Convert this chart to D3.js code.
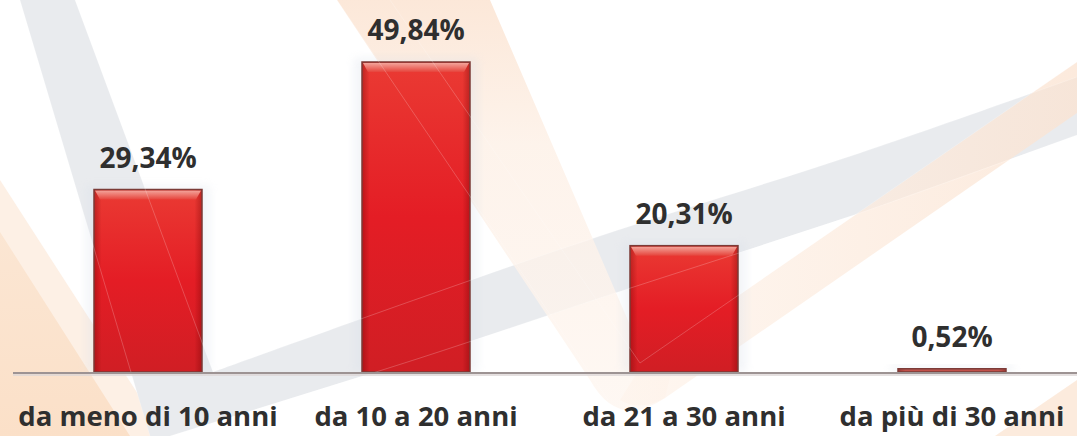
<html>
<head><meta charset="utf-8"/>
<script src="https://cdn.jsdelivr.net/npm/d3@7"></script>
<style>
  body {margin: 0; background: #fff;}
  text {font-family: "Open Sans", sans-serif; font-weight: 700; fill: #2f2f2f;}
</style>
</head>
<body>
<svg width="1077" height="436"></svg>
<script>

// data
var categories = ["da meno di 10 anni", "da 10 a 20 anni", "da 21 a 30 anni", "da più di 30 anni"];
var values = [29.34, 49.84, 20.31, 0.52];

var it = d3.formatLocale({decimal: ",", thousands: ".", grouping: [3], currency: ["", "€"]});
var fmt = function(v) { return it.format(".2f")(v) + "%"; };

var svg = d3.select("svg");
var W = 1077, H = 436, base = 372;

var x = d3.scaleBand().domain(categories).range([14, 1086])
          .paddingInner(0.597).paddingOuter(0.2985);
var y = d3.scaleLinear().domain([0, 50]).range([base, 61]);

var defs = svg.append("defs");

function grad(id, x2, y2, stops) {
  var lg = defs.append("linearGradient").attr("id", id)
     .attr("x1", 0).attr("y1", 0).attr("x2", x2).attr("y2", y2);
  stops.forEach(function(s) {
    lg.append("stop").attr("offset", s[0]).attr("stop-color", s[1]).attr("stop-opacity", s[2] == null ? 1 : s[2]);
  });
}
grad("barFill", 0, 1, [[0, "#ea3a33"], [0.5, "#e41d25"], [1, "#d01e24"]]);
grad("barEdge", 1, 0, [[0, "#6a0000", 0.35], [0.07, "#6a0000", 0], [0.93, "#6a0000", 0], [1, "#6a0000", 0.35]]);
grad("bevel", 0, 1, [[0, "#f3a49a"], [1, "#e6443c"]]);
grad("peachR", 1, 0, [[0, "#fef4ec"], [1, "#fbe3d1"]]);
grad("peachTop", 0, 1, [[0, "#fbe2cf"], [0.35, "#fdf0e6"], [1, "#fef6f0"]]);
grad("peachL", 0, 1, [[0, "#fbe6d3"], [1, "#fbe0c8"]]);
defs.append("filter").attr("id", "soft").append("feGaussianBlur").attr("stdDeviation", 4);

// background swooshes
var bg = svg.append("g");
var line = d3.line().curve(d3.curveCatmullRom);

bg.append("path").attr("fill", "#fdf0e5")
  .attr("d", "M0,180 L165,436 L0,436 Z");
bg.append("path").attr("fill", "url(#peachL)")
  .attr("d", "M0,232 L130,436 L0,436 Z");

// gray V
var grayUp = [[213, 372], [420, 298], [600, 236], [860, 153], [1077, 77]];
var grayLo = [[1077, 135], [860, 213], [600, 298], [420, 358], [170, 436]];
bg.append("path").attr("fill", "#e9ebee")
  .attr("d", "M20,0 L75,0 L213,372 " + line(grayUp).slice(1).replace(/^[^C]*/, "L213,372 ") +
             " L" + grayLo.map(String).join(" L") + " L150,436 Z");

// orange V: left arm fades downward, right arm stronger at the top right
bg.append("path").attr("fill", "url(#peachTop)").attr("opacity", 0.8)
  .attr("d", "M337,0 L490,0 L645,360 L680,336 L665,398 Q618,430 590,380 Z");
bg.append("path").attr("fill", "url(#peachR)").attr("opacity", 0.75)
  .attr("d", "M645,360 L1077,62 L1077,113 L665,398 Q640,412 620,400 Z");
bg.append("path").attr("fill", "#fbe2cf").attr("opacity", 0.7)
  .attr("d", "M1077,380 L1077,436 L995,436 Z");

// bars
var g = svg.append("g");
var bars = g.selectAll("g.bar").data(values).enter().append("g").attr("class", "bar");

bars.append("rect")
  .attr("x", function(d, i) { return x(categories[i]) - 8; })
  .attr("y", function(d) { return y(d) - 4; })
  .attr("width", x.bandwidth() + 16)
  .attr("height", function(d) { return base - y(d) + 4; })
  .attr("fill", "#d7dee8").attr("opacity", 0.3).attr("filter", "url(#soft)");

bars.append("rect")
  .attr("x", function(d, i) { return x(categories[i]); })
  .attr("y", function(d) { return y(d); })
  .attr("width", x.bandwidth())
  .attr("height", function(d) { return base - y(d); })
  .attr("fill", function(d) { return base - y(d) < 8 ? "#b9534d" : "url(#barFill)"; });

bars.append("rect")
  .attr("x", function(d, i) { return x(categories[i]); })
  .attr("y", function(d) { return y(d); })
  .attr("width", x.bandwidth())
  .attr("height", function(d) { return base - y(d); })
  .attr("fill", "url(#barEdge)");

bars.append("path")
  .attr("fill", "url(#bevel)")
  .attr("opacity", function(d) { return base - y(d) < 8 ? 0.4 : 1; })
  .attr("d", function(d, i) {
    var x0 = x(categories[i]), x1 = x0 + x.bandwidth(), t = y(d);
    var h = Math.min(10, (base - t) / 2);
    return "M" + (x0 + 1) + "," + (t + 1) + " L" + (x1 - 1) + "," + (t + 1) +
           " L" + (x1 - 6) + "," + (t + h) + " L" + (x0 + 6) + "," + (t + h) + " Z";
  });

bars.append("rect")
  .attr("x", function(d, i) { return x(categories[i]); })
  .attr("y", function(d) { return y(d); })
  .attr("width", x.bandwidth())
  .attr("height", function(d) { return base - y(d); })
  .attr("fill", "none").attr("stroke", "#7b3b37").attr("stroke-width", 1.5);

// thin glossy lines of the background that run over the bars
var gl = svg.append("g").attr("stroke", "#fff").attr("stroke-opacity", 0.35)
  .attr("stroke-width", 0.6).attr("fill", "none");
gl.append("path").attr("d", "M20,0 L150,436");
gl.append("path").attr("d", "M75,0 L213,372");
gl.append("path").attr("d", line(grayUp));
gl.append("path").attr("d", line(grayLo));
gl.append("path").attr("d", "M337,0 L608,400");
gl.append("path").attr("d", "M390,0 L640,363 L1077,62");

// baseline
svg.append("line").attr("x1", 13).attr("x2", W).attr("y1", base + 1).attr("y2", base + 1)
  .attr("stroke", "#9d9393").attr("stroke-width", 2);
svg.append("line").attr("x1", 13).attr("x2", W).attr("y1", base + 3).attr("y2", base + 3)
  .attr("stroke", "#ddd6d6").attr("stroke-width", 1.5);

// value labels
svg.append("g").selectAll("text").data(values).enter().append("text")
  .attr("x", function(d, i) { return x(categories[i]) + x.bandwidth() / 2; })
  .attr("y", function(d) { return y(d) - 22; })
  .attr("text-anchor", "middle")
  .style("font-size", "28px")
  .text(fmt);

// category labels
svg.append("g").selectAll("text").data(categories).enter().append("text")
  .attr("x", function(d) { return x(d) + x.bandwidth() / 2; })
  .attr("y", 426)
  .attr("text-anchor", "middle")
  .style("font-size", "27.5px")
  .text(function(d) { return d; });
</script>
</body>
</html>
